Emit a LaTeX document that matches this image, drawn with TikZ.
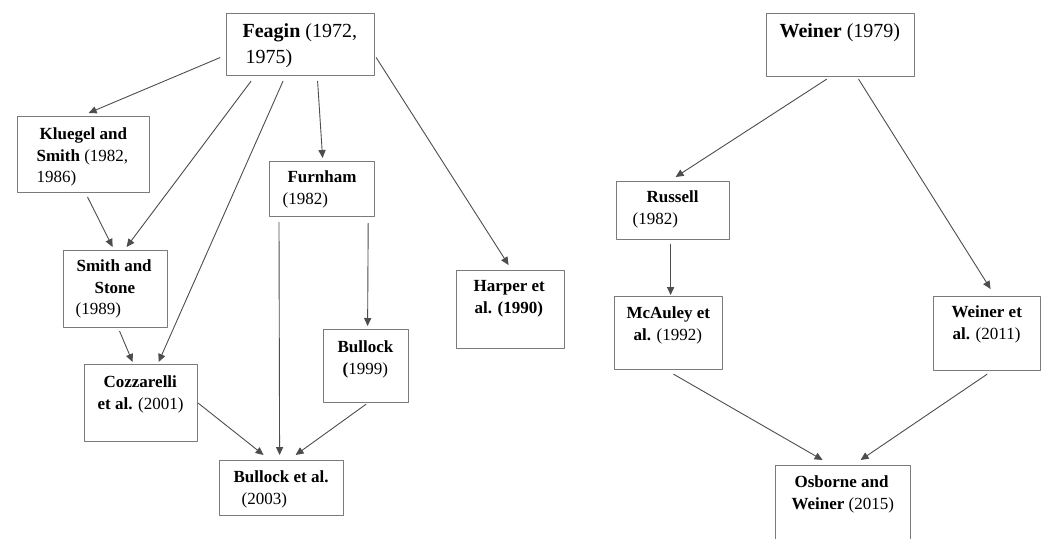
\documentclass[tikz,border=0pt]{standalone}
\usepackage{fontspec}
\setmainfont{Liberation Serif}
\usepackage{tikz}
\usetikzlibrary{arrows.meta}
\definecolor{boxgray}{HTML}{7A7A7A}
\definecolor{linegray}{HTML}{4D4D4D}
\newcommand{\cardbody}[4]{\parbox[c][#2pt][t]{#1pt}{\raggedright\rule{0pt}{#3pt}#4}}
\tikzset{
  every picture/.style={line join=round, line cap=round, >={Triangle[length=4pt,width=3.6pt]}},
  paper/.style={draw=boxgray, line width=0.6pt, inner sep=0pt, anchor=north west, font=\fontsize{8.5}{10.75}\selectfont},
  headpaper/.style={paper, font=\fontsize{10}{13}\selectfont},
  link/.style={->, draw=linegray, line width=0.45pt},
}

\begin{document}
\begin{tikzpicture}[x=0.5pt,y=-0.5pt]
\useasboundingbox (0,0) rectangle (1046,538);
\clip (0,0) rectangle (1046,538);
\node[headpaper] (feagin) at (226,13) {\cardbody{74}{31}{12}{\hspace*{8pt}\textbf{Feagin} (1972,\\\hspace*{9.5pt}1975)}};
\node[paper] (kluegel) at (17,116) {\cardbody{66}{38}{11.5}{\hspace*{11pt}\textbf{Kluegel and}\\\hspace*{9.5pt}\textbf{Smith} (1982,\\\hspace*{9.5pt}1986)}};
\node[paper] (furnham) at (269,161) {\cardbody{52.5}{27.5}{10.5}{\hspace*{9pt}\textbf{Furnham}\\\hspace*{6.5pt}(1982)}};
\node[paper] (smith) at (63,250) {\cardbody{52}{38.5}{10.5}{\hspace*{6.5pt}\textbf{Smith and}\\\hspace*{15.5pt}\textbf{Stone}\\\hspace*{6pt}(1989)}};
\node[paper] (cozzarelli) at (84,364) {\cardbody{56.5}{38.5}{11.5}{\hspace*{9.5pt}\textbf{Cozzarelli}\\\hspace*{6.5pt}\textbf{et al.} (2001)}};
\node[paper] (bullock) at (323,329) {\cardbody{42.5}{36.5}{11.5}{\hspace*{7pt}\textbf{Bullock}\\\hspace*{9.5pt}\textbf{(}1999)}};
\node[paper] (bullocketal) at (219,460) {\cardbody{62}{27.5}{11}{\hspace*{7pt}\textbf{Bullock et al.}\\\hspace*{11pt}(2003)}};
\node[paper] (harper) at (456,270) {\cardbody{54}{39}{10.5}{\hspace*{8.5pt}\textbf{Harper et}\\\hspace*{9pt}\textbf{al. (1990)}}};
\node[headpaper] (weiner) at (766,13) {\cardbody{74}{31.5}{12}{\hspace*{6.5pt}\textbf{Weiner} (1979)}};
\node[paper] (russell) at (616,181) {\cardbody{56.5}{29}{10.5}{\hspace*{15pt}\textbf{Russell}\\\hspace*{8pt}(1982)}};
\node[paper] (mcauley) at (614,296) {\cardbody{54}{36.5}{11}{\hspace*{6pt}\textbf{McAuley et}\\\hspace*{9.5pt}\textbf{al.} (1992)}};
\node[paper] (weineretal) at (933,296) {\cardbody{53.5}{37}{10.5}{\hspace*{9pt}\textbf{Weiner et}\\\hspace*{9.5pt}\textbf{al.} (2011)}};
\node[paper] (osborne) at (775,465) {\cardbody{67.5}{47.5}{11}{\hspace*{9.5pt}\textbf{Osborne and}\\\hspace*{8pt}\textbf{Weiner} (2015)}};
\draw[link] ([shift={(-6,13)}]feagin.west) -- ([shift={(5,-3)}]kluegel.north);
\draw[link] ([shift={(25,5)}]feagin.south west) -- ([shift={(11,-3)}]smith.north);
\draw[link] ([shift={(4,4)}]kluegel.south) -- ([shift={(-3,-3)}]smith.north);
\draw[link] ([shift={(57,5)}]feagin.south west) -- ([shift={(17.5,-2)}]cozzarelli.north);
\draw[link] ([shift={(4,3)}]smith.south) -- ([shift={(-8.5,-2)}]cozzarelli.north);
\draw[link] ([shift={(17,5)}]feagin.south) -- ([shift={(0.5,-3)}]furnham.north);
\draw[link] ([shift={(1,13)}]feagin.east) -- ([shift={(-2,-5)}]harper.north);
\draw[link] ([shift={(10,5)}]furnham.south west) -- ([shift={(-2,-5)}]bullocketal.north);
\draw[link] ([shift={(-7,6)}]furnham.south east) -- ([shift={(1.5,-3)}]bullock.north);
\draw[link] (cozzarelli.east) -- ([shift={(-18,-5)}]bullocketal.north);
\draw[link] ([shift={(0,1)}]bullock.south) -- ([shift={(14,-5)}]bullocketal.north);
\draw[link] ([shift={(-14,2)}]weiner.south) -- ([shift={(2.5,-4)}]russell.north);
\draw[link] ([shift={(18,2)}]weiner.south) -- ([shift={(3.5,-7)}]weineretal.north);
\draw[link] ([shift={(-2.5,4)}]russell.south) -- ([shift={(2,-1)}]mcauley.north);
\draw[link] ([shift={(5,4)}]mcauley.south) -- ([shift={(-20.5,-5)}]osborne.north);
\draw[link] ([shift={(0,3)}]weineretal.south) -- ([shift={(17.5,-5)}]osborne.north);
\end{tikzpicture}
\end{document}
